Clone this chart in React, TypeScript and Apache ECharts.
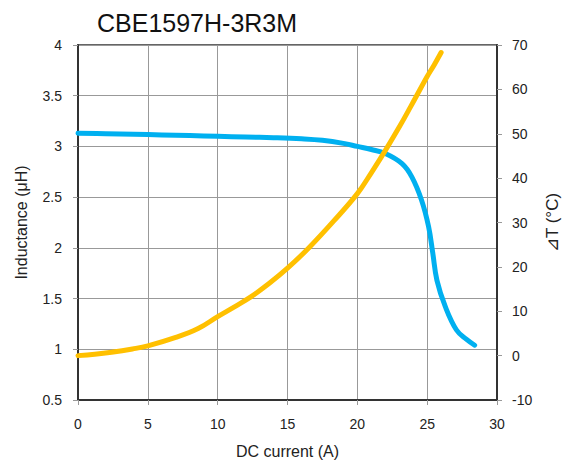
import React, { useEffect, useRef } from "react";
import * as echarts from "echarts";

const titleText = "CBE1597H-3R3M";
const xTicks = { min: 0, max: 30, interval: 5 };
const leftTicks = { min: 0.5, max: 4, interval: 0.5 };
const rightTicks = { min: -10, max: 70, interval: 10 };

const inductance: [number, number][] = [
  [0, 3.13], [2, 3.125], [4, 3.12], [6, 3.113], [8, 3.107], [10, 3.1],
  [12, 3.093], [14, 3.086], [16, 3.075], [17.5, 3.06], [19, 3.03], [20, 3.0],
  [21, 2.97], [22, 2.93], [23.2, 2.83], [23.9, 2.7], [24.6, 2.47], [25.1, 2.21],
  [25.4, 1.95], [25.7, 1.68], [26.3, 1.42], [27.1, 1.19], [27.8, 1.1], [28.4, 1.04],
];

const deltaT: [number, number][] = [
  [0, 0], [1.2, 0.3], [2.4, 0.75], [3.9, 1.5], [5, 2.2], [7, 4.1], [8.6, 6.1],
  [10, 8.8], [11.2, 11], [12.4, 13.3], [13.7, 16.3], [15, 19.7], [16.5, 24.2],
  [18.3, 30.3], [20, 36.5], [21, 41.2], [22, 46.2], [23, 51.5], [23.8, 56],
  [25, 62.9], [25.5, 65.5], [26, 68.3],
];

const font = "'Liberation Sans', Arial, sans-serif";

export default function App() {
  const ref = useRef<HTMLDivElement>(null);
  useEffect(() => {
    if (!ref.current) return;
    const chart = echarts.init(ref.current, null, { renderer: "svg" });
    const tickLabel = { color: "#222", fontSize: 14, fontFamily: font };
    chart.setOption({
      animation: false,
      backgroundColor: "#fff",
      title: {
        text: titleText,
        left: 92,
        top: 5,
        textStyle: { fontSize: 25, fontWeight: "normal", color: "#111", fontFamily: font },
      },
      grid: {
        left: 78,
        right: 75,
        top: 45,
        bottom: 64,
        show: true,
        borderColor: "#333",
        borderWidth: 1.5,
        backgroundColor: "transparent",
      },
      xAxis: {
        type: "value",
        ...xTicks,
        name: "DC current (A)",
        nameLocation: "middle",
        nameGap: 43,
        nameTextStyle: { fontSize: 16, color: "#222", fontFamily: font },
        axisLine: { show: true, onZero: false, lineStyle: { color: "#333", width: 2 } },
        axisTick: { show: true, length: 5, lineStyle: { color: "#999" } },
        axisLabel: { ...tickLabel, margin: 17 },
        splitLine: { show: true, lineStyle: { color: "#999", width: 1 } },
      },
      yAxis: [
        {
          type: "value",
          ...leftTicks,
          position: "left",
          name: "Inductance (μH)",
          nameLocation: "middle",
          nameRotate: 90,
          nameGap: 49,
          nameTextStyle: { fontSize: 16, color: "#222", fontFamily: font },
          axisLine: { show: true, onZero: false, lineStyle: { color: "#333", width: 2 } },
          axisTick: { show: true, length: 5, lineStyle: { color: "#999" } },
          axisLabel: { ...tickLabel, margin: 16, formatter: (v: number) => String(v) },
          splitLine: { show: true, lineStyle: { color: "#999", width: 1 } },
        },
        {
          type: "value",
          ...rightTicks,
          position: "right",
          name: "⊿T (°C)",
          nameLocation: "middle",
          nameRotate: 90,
          nameGap: 47,
          nameTextStyle: { fontSize: 17, color: "#222", fontFamily: font },
          axisLine: { show: true, onZero: false, lineStyle: { color: "#333", width: 2 } },
          axisTick: { show: true, length: 5, lineStyle: { color: "#999" } },
          axisLabel: { ...tickLabel, margin: 15 },
          splitLine: { show: false },
        },
      ],
      series: [
        {
          type: "line",
          name: "Inductance",
          yAxisIndex: 0,
          data: inductance,
          smooth: 0.4,
          showSymbol: false,
          lineStyle: { color: "#00B0F0", width: 5, cap: "round", join: "round" },
          z: 3,
        },
        {
          type: "line",
          name: "Temperature",
          yAxisIndex: 1,
          data: deltaT,
          smooth: 0.4,
          showSymbol: false,
          lineStyle: { color: "#FFC000", width: 5, cap: "round", join: "round" },
          z: 4,
        },
      ],
    });
    return () => chart.dispose();
  }, []);
  return (
    <div
      ref={ref}
      style={{ position: "fixed", left: 0, top: 0, width: 572, height: 464, background: "#fff" }}
    />
  );
}
